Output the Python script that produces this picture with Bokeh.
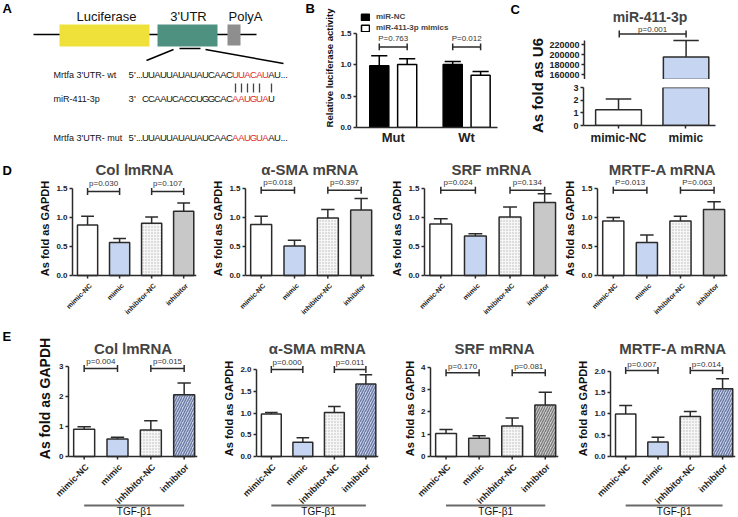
import math
from bokeh.plotting import figure
from bokeh.models import (Range1d, FixedTicker, Legend, LegendItem, Span,
                          NumeralTickFormatter, ColumnDataSource)
from bokeh.layouts import row, column
from bokeh.embed import file_html
from bokeh.resources import INLINE
from bokeh.core.properties import value

FONT = "Liberation Sans"
INK = "#2b2b2b"
BLUE = "#C6D5F1"
RED = "#E0262C"

# ---------------- data ----------------
# Panel A (construct diagram)
A_BOX_LABELS = ["Luciferase", "3'UTR", "PolyA"]
SEQ_NAMES = ["Mrtfa  3'UTR- wt", "miR-411-3p", "Mrtfa  3'UTR- mut"]
SEQ_ENDS = ["5'...", "3'", "5'..."]
SEQ_CORE = ["UUAUUAUAUAUCAAC", "CCAAUCACCUGGCAC", "UUAUUAUAUAUCAAC"]
SEQ_SITE = ["UUACAU", "AAUGUA", "AAUGUA"]
SEQ_TAIL = ["AU...", "U", "AU..."]
PAIRED = [0, 1, 2, 3, 4, 6]

# Panel B
B_GROUPS = ["Mut", "Wt"]
B_SERIES = ["miR-NC", "miR-411-3p mimics"]
B_NC = [0.98, 1.00]
B_NC_ERR = [0.16, 0.05]
B_MIMIC = [1.00, 0.83]
B_MIMIC_ERR = [0.09, 0.06]
B_P = ["P=0.763", "P=0.012"]
B_BRACKET_Y = 1.28
B_PTEXT_Y = 1.42
B_TICKS = [0.0, 0.5, 1.0, 1.5]

# Panel C
C_TITLE = "miR-411-3p"
C_CATS = ["mimic-NC", "mimic"]
C_VALS = [1.25, 195000]
C_ERR = [0.85, 33000]
C_P = ["p=0.001"]
C_BRACKET_Y = 241000
C_PTEXT_Y = 251000
C_TICKS_LOW = [0, 1, 2, 3]
C_TICKS_HIGH = [160000, 180000, 200000, 220000]
C_BREAK = (3, 150000)

# Panels D / E
CATS = ["mimic-NC", "mimic", "inhibitor-NC", "inhibitor"]
PAIRS = [(0, 1), (2, 3)]
TITLES = ["Col \u2160mRNA", "\u03b1-SMA mRNA", "SRF mRNA", "MRTF-A mRNA"]
Y_LABEL = "As fold as GAPDH"

D_MEANS = [[0.87, 0.57, 0.90, 1.11],
           [0.88, 0.51, 0.99, 1.13],
           [0.89, 0.68, 1.01, 1.26],
           [0.94, 0.57, 0.94, 1.14]]
D_ERRS = [[0.15, 0.07, 0.11, 0.14],
          [0.14, 0.10, 0.15, 0.20],
          [0.09, 0.04, 0.17, 0.15],
          [0.06, 0.13, 0.08, 0.13]]
D_P = [["p=0.030", "p=0.107"], ["p=0.018", "p=0.397"],
       ["p=0.024", "p=0.134"], ["P=0.013", "P=0.063"]]
D_BRACKET_Y = [1.45, 1.47, 1.47, 1.47]
D_PTEXT_Y = [1.59, 1.60, 1.60, 1.60]
D_TICKS = [0.0, 0.5, 1.0, 1.5]
D_YMAX = [1.69, 1.69, 1.69, 1.69]

E_MEANS = [[0.91, 0.58, 0.88, 2.06],
           [0.98, 0.33, 1.01, 1.67],
           [1.03, 0.82, 1.37, 2.31],
           [1.00, 0.34, 0.94, 1.59]]
E_ERRS = [[0.08, 0.06, 0.31, 0.39],
          [0.03, 0.10, 0.14, 0.21],
          [0.18, 0.11, 0.35, 0.57],
          [0.20, 0.11, 0.12, 0.24]]
E_P = [["p=0.004", "p=0.015"], ["p=0.000", "p=0.011"],
       ["p=0.170", "p=0.081"], ["p=0.007", "p=0.014"]]
E_BRACKET_Y = [2.93, 2.00, 3.75, 2.02]
E_PTEXT_Y = [3.16, 2.17, 4.02, 2.17]
E_TICKS = [[0, 1, 2, 3], [0, 0.5, 1.0, 1.5, 2.0], [0, 1, 2, 3, 4], [0, 0.5, 1.0, 1.5, 2.0]]
E_FMT = ["0", "0.0", "0", "0.0"]
E_YMAX = [3.33, 2.30, 4.48, 2.35]
E_GROUP = "TGF-\u03b21"

# ---------------- styles ----------------
D_FILL = ["white", BLUE, "#F6F6F6", "#C8C8C8"]
D_HATCH = [" ", " ", ".", " "]
D_HCOL = ["white", "white", "#B5B5B5", "white"]
E_FILL_BLUE = ["white", BLUE, "#F6F6F6", "#CAD3EB"]
E_HCOL_BLUE = ["white", "white", "#B5B5B5", "#6C7BA4"]
E_FILL_GRAY = ["white", "#C4C4C4", "#F6F6F6", "#D2D2D2"]
E_HCOL_GRAY = ["white", "white", "#B5B5B5", "#7C7C7C"]
E_HATCH = [" ", " ", ".", "/"]
HSCALE = [4, 4, 3, 5]
HWEIGHT = [1, 1, 0.6, 1.4]
XR = (-0.47, 3.4)


def make_fig(width, height, xr, yr, left, right, top, bottom, **kw):
    p = figure(width=width, height=height, x_range=xr, y_range=yr,
               output_backend="svg", toolbar_location=None,
               min_border_left=left, min_border_right=right,
               min_border_top=top, min_border_bottom=bottom, **kw)
    if "frame_align" in p.properties():
        p.frame_align = False
    p.grid.visible = False
    p.outline_line_color = None
    p.background_fill_color = "white"
    p.border_fill_color = "white"
    return p


def blank_fig(width, height, x0, x1, y0, y1):
    return make_fig(width, height, Range1d(x0, x1), Range1d(y1, y0), 0, 0, 0, 0,
                    x_axis_location=None, y_axis_location=None)


def put_text(p, x, y, txt, size, bold=False, align="left", baseline="middle", angle=0,
             color="#111111"):
    p.text(x=[x], y=[y], text=[txt], angle=angle, text_font=value(FONT),
           text_font_style="bold" if bold else "normal", text_font_size=size,
           text_align=align, text_baseline=baseline, text_color=color)


def style_axes(p, tick_size="8px"):
    for ax in p.axis:
        ax.axis_line_color = INK
        ax.axis_line_width = 1.5
        ax.major_tick_line_color = INK
        ax.major_tick_line_width = 1.5
        ax.major_tick_out = 3
        ax.major_tick_in = 0
        ax.minor_tick_out = 0
        ax.minor_tick_in = 0
        ax.major_label_text_font = FONT
        ax.major_label_text_font_style = "bold"
        ax.major_label_text_font_size = tick_size
        ax.major_label_text_color = "#222222"
        ax.major_label_standoff = 2
        ax.axis_label_text_font = FONT
        ax.axis_label_text_font_style = "bold"
        ax.axis_label_text_color = "#111111"
        ax.axis_label_standoff = 2


def brackets(p, pairs, by, ty, texts, tick_h, size="8px"):
    x0 = [a for a, b in pairs]
    x1 = [b for a, b in pairs]
    p.segment(x0=x0, y0=[by] * len(x0), x1=x1, y1=[by] * len(x0), line_color=INK, line_width=1.5)
    ends = x0 + x1
    p.segment(x0=ends, y0=[by - tick_h] * len(ends), x1=ends, y1=[by + tick_h] * len(ends),
              line_color=INK, line_width=1.5)
    p.text(x=[(a + b) / 2 for a, b in pairs], y=[ty] * len(x0), text=texts,
           text_font=value(FONT), text_font_size=size, text_align="center",
           text_baseline="middle", text_color="#333333")


def bar_panel(width, left, right, plot_h, top, label_h, title, means, errs, fills, hatches,
              hcols, ticks, fmt, ymax, ptexts, by, ty, ylab_size, xlab_size, group=None):
    below = 4                                   # px of frame kept under the zero line
    s = (plot_h - top - below) / ymax           # px per data unit (y)
    py = 1.0 / s
    p = make_fig(width, plot_h, Range1d(*XR), Range1d(-below * py, ymax),
                 left, right, top, 0, x_axis_location=None)
    xs = list(range(len(CATS)))
    cap = 0.2
    src = ColumnDataSource(dict(
        x=xs, top=means, etop=[m + e for m, e in zip(means, errs)],
        cl=[x - cap for x in xs], cr=[x + cap for x in xs],
        fill=fills, hatch=hatches, hcol=hcols, hscale=HSCALE, hweight=HWEIGHT))
    p.segment(x0="x", y0="top", x1="x", y1="etop", source=src, line_color=INK, line_width=1.5)
    p.segment(x0="cl", y0="etop", x1="cr", y1="etop", source=src, line_color=INK, line_width=1.5)
    p.vbar(x="x", top="top", width=0.63, source=src, fill_color="fill", line_color=INK,
           line_width=1.5, hatch_pattern="hatch", hatch_color="hcol",
           hatch_scale="hscale", hatch_weight="hweight")
    brackets(p, PAIRS, by, ty, ptexts, 3.5 * py)
    p.add_layout(Span(location=0, dimension="width", line_color=INK, line_width=1.5))
    p.segment(x0=xs, y0=[0] * len(xs), x1=xs, y1=[-3 * py] * len(xs), line_color=INK,
              line_width=1.5)
    p.title.text = title
    p.title.align = "center"
    p.title.text_font = FONT
    p.title.text_font_style = "bold"
    p.title.text_font_size = "15px"
    p.title.standoff = 0
    style_axes(p)
    p.yaxis.ticker = FixedTicker(ticks=ticks)
    p.yaxis.bounds = (0, ticks[-1])
    p.yaxis.formatter = NumeralTickFormatter(format=fmt)
    if ylab_size is not None:
        p.yaxis.axis_label = Y_LABEL
        p.yaxis.axis_label_text_font_size = ylab_size

    # category labels strip: same x mapping as the plot above, equal x/y pixel units
    sx = (width - left - right) / (XR[1] - XR[0])
    ux = 1.0 / sx
    lab = make_fig(width, label_h, Range1d(XR[0] - left * ux, XR[1] + right * ux),
                   Range1d(0, label_h * ux), 0, 0, 0, 0,
                   x_axis_location=None, y_axis_location=None)
    lab.text(x=[x + 3 * ux for x in xs], y=[(label_h - 5) * ux] * len(xs), text=CATS,
             angle=math.pi / 4, text_font=value(FONT), text_font_style="bold",
             text_font_size=xlab_size, text_align="right", text_baseline="middle",
             text_color="#222222")
    if group is not None:
        gx = [xs[0], xs[-1]]
        lab.segment(x0=[gx[0]], y0=[(label_h - 45) * ux], x1=[gx[1]],
                    y1=[(label_h - 45) * ux], line_color="#6a6a6a", line_width=2)
        lab.text(x=[(gx[0] + gx[1]) / 2], y=[(label_h - 51) * ux], text=[group],
                 text_font=value(FONT), text_font_size="10px", text_align="center",
                 text_baseline="middle", text_color="#111111")
    return column(p, lab)


# ---------------- Panel A (page coordinates) ----------------
pa = blank_fig(316, 147, 0, 316, 0, 147)
put_text(pa, 2, 8, "A", "13px", bold=True, color="black")
put_text(pa, 305, 8, "B", "13px", bold=True, color="black")
pa.line(x=[33, 256], y=[34, 34], line_color="black", line_width=1.5)
pa.quad(left=[59, 157, 227], right=[149, 217, 240], top=[24, 24, 24], bottom=[46, 46, 45],
        fill_color=["#EFE13A", "#4F9181", "#8E8E8E"], line_color=None)
pa.text(x=[106, 188, 245], y=[16, 16, 16], text=A_BOX_LABELS, text_font=value(FONT),
        text_font_size="13px", text_align="center", text_baseline="middle", text_color="#111111")
pa.segment(x0=[179, 173, 205], y0=[48, 49, 49], x1=[200, 146, 283], y1=[48, 60, 63],
           line_color="black", line_width=1.5)
row_y = [74, 98, 137]
pa.text(x=[53] * 3, y=row_y, text=SEQ_NAMES, text_font=value(FONT), text_font_size="9px",
        text_align="left", text_baseline="middle", text_color="#111111")
cx, cy, ct, cc = [], [], [], []
for k in range(3):
    x = 128.0
    for ch in SEQ_ENDS[k]:
        w = 2.2 if ch in ".'" else 5.4
        cx.append(x + w / 2); cy.append(row_y[k]); ct.append(ch); cc.append("#111111")
        x += w
    x = 142.0
    for seg, col in ((SEQ_CORE[k], "#111111"), (SEQ_SITE[k], RED), (SEQ_TAIL[k], "#111111")):
        for ch in seg:
            w = 2.4 if ch == "." else 6.0
            cx.append(x + w / 2); cy.append(row_y[k]); ct.append(ch); cc.append(col)
            x += w
pa.text(x=cx, y=cy, text=ct, text_color=cc, text_font=value(FONT), text_font_size="9.5px",
        text_align="center", text_baseline="middle")
site_x0 = 142.0 + 6.0 * len(SEQ_CORE[0])
pa.segment(x0=[site_x0 + 3 + 6 * i for i in PAIRED], y0=[83] * len(PAIRED),
           x1=[site_x0 + 3 + 6 * i for i in PAIRED], y1=[92] * len(PAIRED),
           line_color="#444444", line_width=1.3)

# ---------------- Panel B ----------------
pb = make_fig(189, 147, Range1d(-0.5, 1.42), Range1d(0, 1.89), 40, 8, 8, 18)
bx = list(range(len(B_GROUPS)))
off, bw, bcap = 0.19, 0.26, 0.11
r1 = pb.vbar(x=[x - off for x in bx], top=B_NC, width=bw, fill_color="black",
             line_color="black", line_width=1.5)
r2 = pb.vbar(x=[x + off for x in bx], top=B_MIMIC, width=bw, fill_color="white",
             line_color="black", line_width=1.5)
for vals, errs, sgn in ((B_NC, B_NC_ERR, -1), (B_MIMIC, B_MIMIC_ERR, 1)):
    xs = [x + sgn * off for x in bx]
    tops = [v + e for v, e in zip(vals, errs)]
    pb.segment(x0=xs, y0=vals, x1=xs, y1=tops, line_color="black", line_width=1.5)
    pb.segment(x0=[x - bcap for x in xs], y0=tops, x1=[x + bcap for x in xs], y1=tops,
               line_color="black", line_width=1.5)
brackets(pb, [(x - off, x + off) for x in bx], B_BRACKET_Y, B_PTEXT_Y, B_P, 3.5 * 1.89 / 121)
legend = Legend(items=[LegendItem(label=B_SERIES[0], renderers=[r1]),
                       LegendItem(label=B_SERIES[1], renderers=[r2])],
                location="top_left", margin=4, padding=2, spacing=2, glyph_width=10,
                glyph_height=8, label_height=9, label_standoff=6, label_text_font=FONT,
                label_text_font_style="bold", label_text_font_size="8px",
                background_fill_alpha=0, border_line_color=None)
pb.add_layout(legend)
style_axes(pb)
pb.yaxis.ticker = FixedTicker(ticks=B_TICKS)
pb.yaxis.bounds = (0, B_TICKS[-1])
pb.yaxis.formatter = NumeralTickFormatter(format="0.0")
pb.yaxis.axis_label = "Relative luciferase activity"
pb.yaxis.axis_label_text_font_size = "9.5px"
pb.xaxis.ticker = FixedTicker(ticks=bx)
pb.xaxis.major_label_overrides = {i: g for i, g in enumerate(B_GROUPS)}
pb.xaxis.major_label_text_font_size = "13px"
pb.xaxis.major_tick_out = 0

# ---------------- Panel C ----------------
pcs = blank_fig(41, 147, 505, 546, 0, 147)
put_text(pcs, 510, 9, "C", "13px", bold=True, color="black")
put_text(pcs, 537, 85, "As fold as U6", "15px", bold=True, align="center", baseline="middle",
         angle=math.pi / 2)

cx_ = list(range(len(C_CATS)))
ccap = 0.19


def c_bars(p, lo):
    idx = [i for i in cx_ if C_VALS[i] >= lo]
    xs = [cx_[i] for i in idx]
    vals = [C_VALS[i] for i in idx]
    tops = [C_VALS[i] + C_ERR[i] for i in idx]
    fills = [["white", BLUE][i] for i in idx]
    p.segment(x0=xs, y0=vals, x1=xs, y1=tops, line_color=INK, line_width=1.5)
    p.segment(x0=[x - ccap for x in xs], y0=tops, x1=[x + ccap for x in xs], y1=tops,
              line_color=INK, line_width=1.5)
    p.vbar(x=xs, top=vals, width=0.68, fill_color=fills, line_color=INK, line_width=1.5)


pcu = make_fig(192, 79, Range1d(-0.52, 1.44), Range1d(C_BREAK[1], 260000), 37, 23, 24, 0,
               x_axis_location=None)
c_bars(pcu, C_BREAK[1])
brackets(pcu, [(0, 1)], C_BRACKET_Y, C_PTEXT_Y, C_P, 3.5 * 110000 / 55)
pcu.title.text = C_TITLE
pcu.title.align = "center"
pcu.title.offset = -19
pcu.title.standoff = 0
pcu.title.text_font = FONT
pcu.title.text_font_style = "bold"
pcu.title.text_font_size = "14px"
style_axes(pcu, "9px")
pcu.yaxis.ticker = FixedTicker(ticks=C_TICKS_HIGH)
pcu.yaxis.bounds = (C_BREAK[1], 228000)
pcu.yaxis.formatter = NumeralTickFormatter(format="0")

pcl = make_fig(192, 68, Range1d(-0.52, 1.44), Range1d(0, C_BREAK[0]), 37, 23, 8, 18)
c_bars(pcl, 0)
style_axes(pcl, "9px")
pcl.yaxis.ticker = FixedTicker(ticks=C_TICKS_LOW)
pcl.yaxis.formatter = NumeralTickFormatter(format="0")
pcl.xaxis.ticker = FixedTicker(ticks=cx_)
pcl.xaxis.major_label_overrides = {i: c for i, c in enumerate(C_CATS)}
pcl.xaxis.major_label_text_font_size = "12px"

# ---------------- Panel D ----------------
pdl = blank_fig(36, 180, 0, 36, 147, 327)
put_text(pdl, 2, 170, "D", "13px", bold=True, color="black")
D_BOX = [(168, 36, 8), (178, 41, 8), (178, 42, 2), (178, 37, 11)]
dpanels = []
for i in range(4):
    w, l, r = D_BOX[i]
    dpanels.append(bar_panel(w, l, r, 132, 30, 48, TITLES[i], D_MEANS[i], D_ERRS[i], D_FILL,
                             D_HATCH, D_HCOL, D_TICKS, "0.0", D_YMAX[i], D_P[i],
                             D_BRACKET_Y[i], D_PTEXT_Y[i], "11px", "7px"))

# ---------------- Panel E ----------------
pel = blank_fig(52, 190, 0, 52, 327, 517)
put_text(pel, 2, 336, "E", "13px", bold=True, color="black")
put_text(pel, 44, 398, Y_LABEL, "14px", bold=True, align="center", baseline="middle",
         angle=math.pi / 2)
E_BOX = [(158, 16, 13), (175, 46, 7), (180, 45, 7), (173, 45, 3)]
epanels = []
for i in range(4):
    w, l, r = E_BOX[i]
    gray = (i == 2)
    epanels.append(bar_panel(w, l, r, 133, 29, 57, TITLES[i], E_MEANS[i], E_ERRS[i],
                             E_FILL_GRAY if gray else E_FILL_BLUE, E_HATCH,
                             E_HCOL_GRAY if gray else E_HCOL_BLUE, E_TICKS[i], E_FMT[i],
                             E_YMAX[i], E_P[i], E_BRACKET_Y[i], E_PTEXT_Y[i],
                             None if i == 0 else "11px", "9px", group=E_GROUP))

layout = column(row(pa, pb, pcs, column(pcu, pcl)), row(pdl, *dpanels), row(pel, *epanels))
open("out.html", "w").write(file_html(layout, INLINE))
